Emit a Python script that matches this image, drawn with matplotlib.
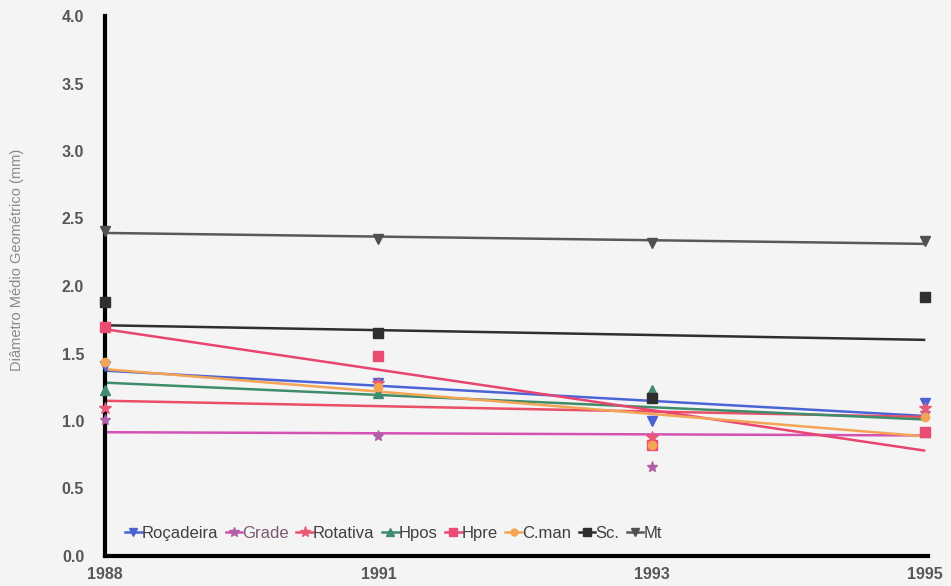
import numpy as np
import matplotlib
matplotlib.use("Agg")
import matplotlib.pyplot as plt
import matplotlib.transforms as mtransforms

# Anos de amostragem (eixo categórico)
anos = ["1988", "1991", "1993", "1995"]

# Diâmetro médio geométrico (mm) por sistema de manejo
rocadeira = [1.41, 1.28, 1.00, 1.13]
grade = [1.01, 0.89, 0.66, 1.06]
rotativa = [1.10, 1.28, 0.88, 1.10]
hpos = [1.23, 1.21, 1.23, 0.92]
hpre = [1.70, 1.48, 0.82, 0.92]
cman = [1.44, 1.25, 0.82, 1.03]
sc = [1.88, 1.65, 1.17, 1.92]
mt = [2.41, 2.35, 2.32, 2.33]

series = [
    ("Roçadeira", rocadeira, "#4a64d6", "#4a64d6", "v", 7),
    ("Grade", grade, "#b060a8", "#d452b4", "*", 8),
    ("Rotativa", rotativa, "#ea5a78", "#ea4f66", "*", 9),
    ("Hpos", hpos, "#3f8c72", "#3f8c6a", "^", 7),
    ("Hpre", hpre, "#ea4c74", "#ea4570", "s", 7),
    ("C.man", cman, "#f3a455", "#f3a455", "o", 6),
    ("Sc.", sc, "#2e2e2e", "#2e2e2e", "s", 7),
    ("Mt", mt, "#505050", "#56595b", "v", 7),
]

bg = "#f4f4f4"
fig = plt.figure(figsize=(9.51, 5.86), dpi=100, facecolor=bg)
ax = fig.add_axes([105 / 951, 1 - 556 / 586, 823 / 951, 540 / 586])
ax.set_facecolor(bg)

x = np.arange(len(anos))
handles = []
for nome, vals, mcol, lcol, mk, ms in series:
    vals = np.asarray(vals)
    # linha de tendência linear ajustada aos pontos
    a, b = np.polyfit(x, vals, 1)
    xt = np.array([x[0], x[-1]])
    ax.plot(xt, a * xt + b, color=lcol, lw=1.8, zorder=2, solid_capstyle="butt")
    ax.plot(x, vals, linestyle="none", marker=mk, ms=ms, color=mcol,
            markeredgecolor=mcol, zorder=3, clip_on=False)
    h, = ax.plot([], [], color=lcol, lw=1.8, marker=mk, ms=ms - 1, markeredgecolor=mcol,
                 markerfacecolor=mcol)
    handles.append(h)

ax.set_xlim(0, 3.01)
ax.set_ylim(0, 4.0)
ax.set_xticks(x)
ax.set_xticklabels(anos)
ax.set_yticks(np.arange(0, 4.01, 0.5))
ax.set_yticklabels([f"{v:.1f}" for v in np.arange(0, 4.01, 0.5)])

for lab in ax.get_xticklabels() + ax.get_yticklabels():
    lab.set_fontweight("bold")
    lab.set_color("#575757")
    lab.set_fontsize(11.5)
    lab.set_family("Liberation Sans")
# first year label sits a little right of the axis corner
first = ax.get_xticklabels()[0]
first.set_transform(first.get_transform() +
                    mtransforms.ScaledTranslation(7 / 100, 0, fig.dpi_scale_trans))
ax.tick_params(axis="both", length=0)
ax.tick_params(axis="y", pad=15)
ax.tick_params(axis="x", pad=8)

for s in ("top", "right"):
    ax.spines[s].set_visible(False)
for s in ("left", "bottom"):
    ax.spines[s].set_linewidth(3)
    ax.spines[s].set_color("black")

fig.text(17 / 951, 1 - 260 / 586, "Diâmetro Médio Geométrico (mm)", rotation=90,
         ha="center", va="center", fontsize=10.5, color="#8a8a8a",
         family="Liberation Sans")

leg = ax.legend(handles, [s[0] for s in series], loc="lower left",
                bbox_to_anchor=(0.006, 0.0), ncol=8, frameon=False,
                handlelength=1.0, handletextpad=0.0, columnspacing=0.45,
                prop={"family": "Liberation Sans", "size": 12})
for t in leg.get_texts():
    t.set_color("#404040")
leg.get_texts()[1].set_color("#7a5a72")

fig.savefig("out.png", dpi=100, facecolor=bg)
